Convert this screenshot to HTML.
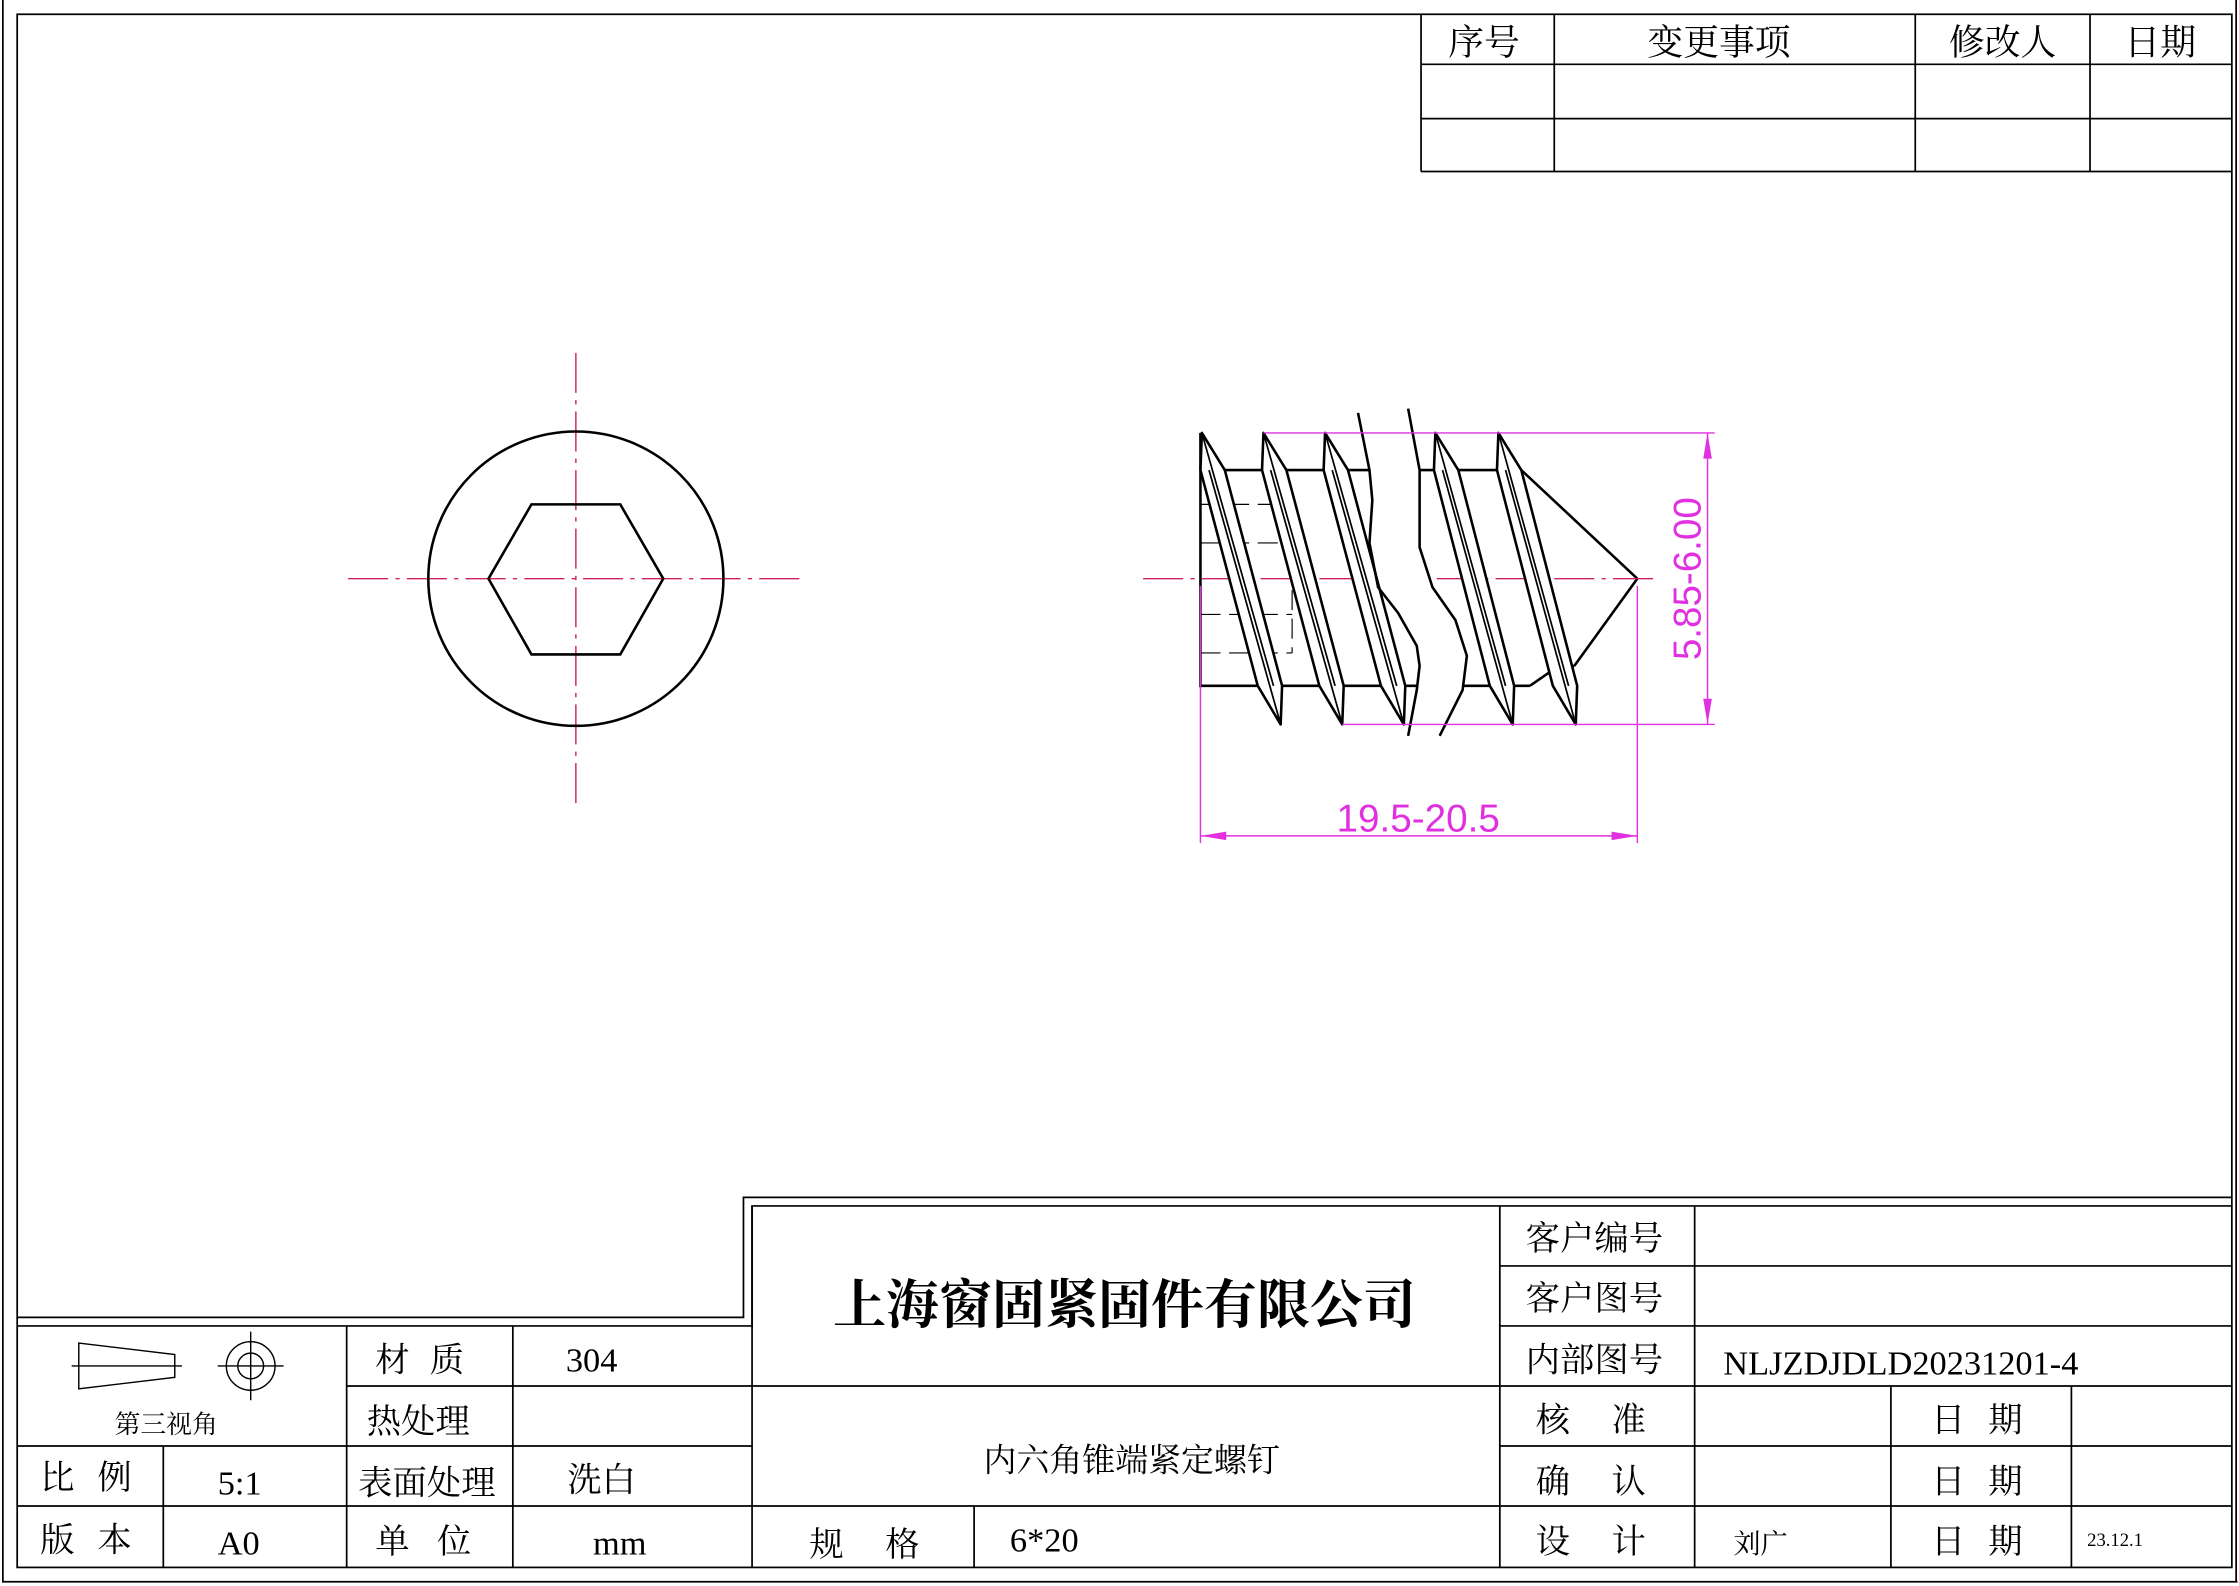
<!DOCTYPE html>
<html><head><meta charset="utf-8"><style>
html,body{margin:0;padding:0;background:#fff;}
svg{display:block;}
.t{font-family:"Liberation Serif","Noto Serif CJK SC",serif;fill:#000;}
.m{font-family:"Liberation Sans","DejaVu Sans",sans-serif;fill:#e030e0;}
</style></head><body>
<svg width="2239" height="1586" viewBox="0 0 1563 1110" preserveAspectRatio="none" xmlns="http://www.w3.org/2000/svg">
<rect x="0" y="0" width="1563" height="1110" fill="#fff"/>
<g fill="none" stroke="#000" stroke-width="1.2">
<polyline points="2,0 2,1107 1562,1107"/>
<line x1="1561" y1="0" x2="1561" y2="1107"/>
<rect x="12" y="10" width="1546" height="1087"/>
<line x1="992" y1="10" x2="992" y2="120"/>
<line x1="992" y1="45" x2="1558" y2="45"/>
<line x1="992" y1="83" x2="1558" y2="83"/>
<line x1="992" y1="120" x2="1558" y2="120"/>
<line x1="1085" y1="10" x2="1085" y2="120"/>
<line x1="1337" y1="10" x2="1337" y2="120"/>
<line x1="1459" y1="10" x2="1459" y2="120"/>
<polyline points="12,922 519,922 519,838 1558,838"/>
<polyline points="12,928 525,928 525,844 1558,844"/>
<line x1="525" y1="844" x2="525" y2="1097"/>
<line x1="12" y1="1012" x2="525" y2="1012"/>
<line x1="12" y1="1054" x2="525" y2="1054"/>
<line x1="242" y1="970" x2="525" y2="970"/>
<line x1="114" y1="1012" x2="114" y2="1097"/>
<line x1="242" y1="928" x2="242" y2="1097"/>
<line x1="358" y1="928" x2="358" y2="1097"/>
<line x1="525" y1="970" x2="1047" y2="970"/>
<line x1="525" y1="1054" x2="1047" y2="1054"/>
<line x1="680" y1="1054" x2="680" y2="1097"/>
<line x1="1047" y1="844" x2="1047" y2="1097"/>
<line x1="1183" y1="844" x2="1183" y2="1097"/>
<line x1="1047" y1="886" x2="1558" y2="886"/>
<line x1="1047" y1="928" x2="1558" y2="928"/>
<line x1="1047" y1="970" x2="1558" y2="970"/>
<line x1="1047" y1="1012" x2="1558" y2="1012"/>
<line x1="1047" y1="1054" x2="1558" y2="1054"/>
<line x1="1320" y1="970" x2="1320" y2="1097"/>
<line x1="1446" y1="970" x2="1446" y2="1097"/>
<polygon points="55,940 122,948 122,964 55,972" stroke-width="1"/>
<line x1="50" y1="956" x2="127" y2="956" stroke-width="1"/>
<circle cx="175" cy="956" r="17" stroke-width="1"/>
<circle cx="175" cy="956" r="9" stroke-width="1"/>
<line x1="152" y1="956" x2="198" y2="956" stroke-width="1"/>
<line x1="175" y1="932" x2="175" y2="980" stroke-width="1"/>
</g>

<g class="t" font-size="25" text-anchor="middle">
<text x="1036" y="38">序号</text>
<text x="1200" y="38">变更事项</text>
<text x="1398" y="38">修改人</text>
<text x="1508" y="38">日期</text>
</g>

<g class="t">
<text x="785" y="926" font-size="37" font-weight="bold" text-anchor="middle">上海窗固紧固件有限公司</text>
<text x="790" y="1030" font-size="23" text-anchor="middle">内六角锥端紧定螺钉</text>
<text x="116" y="1003" font-size="18" text-anchor="middle">第三视角</text>
<g font-size="24">
<text x="262" y="960">材</text><text x="300" y="960">质</text>
<text x="395" y="960">304</text>
<text x="256" y="1003">热处理</text>
<text x="250" y="1046">表面处理</text>
<text x="396" y="1044">洗白</text>
<text x="28" y="1042">比</text><text x="68" y="1042">例</text>
<text x="152" y="1046">5:1</text>
<text x="28" y="1086">版</text><text x="68" y="1086">本</text>
<text x="152" y="1088">A0</text>
<text x="262" y="1087">单</text><text x="305" y="1087">位</text>
<text x="414" y="1088">mm</text>
<text x="565" y="1089">规</text><text x="618" y="1089">格</text>
<text x="705" y="1086">6*20</text>
<text x="1065" y="875">客户编号</text>
<text x="1065" y="917">客户图号</text>
<text x="1065" y="960">内部图号</text>
<text x="1203" y="962">NLJZDJDLD20231201-4</text>
<text x="1072" y="1002">核</text><text x="1125" y="1002">准</text>
<text x="1072" y="1045">确</text><text x="1125" y="1045">认</text>
<text x="1072" y="1087">设</text><text x="1125" y="1087">计</text>
<text x="1348" y="1002">日</text><text x="1388" y="1002">期</text>
<text x="1348" y="1045">日</text><text x="1388" y="1045">期</text>
<text x="1348" y="1087">日</text><text x="1388" y="1087">期</text>
</g>
<text x="1210" y="1087" font-size="19">刘广</text>
<text x="1457" y="1082" font-size="13">23.12.1</text>
</g>

<g stroke="#d02068" stroke-width="1" fill="none" stroke-dasharray="28,5,3,5">
<line x1="243" y1="405" x2="560" y2="405"/>
<line x1="402" y1="247" x2="402" y2="563"/>
</g>
<g fill="none" stroke="#000" stroke-width="1.8">
<circle cx="402" cy="405" r="103"/>
<polygon points="341,405 371,353 433,353 463,405 433,458 371,458"/>
</g>

<g fill="none" stroke="#000" stroke-width="1.8" stroke-linejoin="round">
<line x1="838" y1="303" x2="838" y2="481"/>
<line x1="838" y1="329" x2="1062" y2="329"/>
<line x1="838" y1="480" x2="1068" y2="480"/>
<polyline points="1062,329 1143,405 1099,466"/>
<polyline points="1068,480 1081,471 1099,466"/>
</g>
<g stroke="#000" stroke-width="0.8" fill="none" stroke-dasharray="14,6">
<line x1="838" y1="353" x2="902" y2="353"/>
<line x1="838" y1="380" x2="902" y2="380"/>
<line x1="838" y1="430" x2="902" y2="430"/>
<line x1="838" y1="457" x2="902" y2="457"/>
<line x1="902" y1="353" x2="902" y2="457"/>
</g>
<line x1="798" y1="405" x2="1155" y2="405" stroke="#d02068" stroke-width="1" stroke-dasharray="28,5,3,5"/>
<polygon fill="#fff" stroke="none" points="948,289 956,329 958,350 956,380 962,411 976,429 989,452 991,466 989,483 983,515 1005,515 1021,483 1024,459 1016,434 1000,411 991,383 991,362 991,329 983,286"/>
<g fill="#fff" stroke="#000" stroke-width="1.8" stroke-linejoin="round">
<polygon points="839,303 855,329 895,480 894,507 878,480 838,329"/>
<polygon points="882,303 898,329 938,480 937,507 921,480 881,329"/>
<polygon points="925,303 941,329 981,480 980,507 964,480 924,329"/>
<polygon points="1002,303 1018,329 1057,480 1056,507 1040,480 1001,329"/>
<polygon points="1046,303 1062,329 1101,480 1100,507 1084,480 1045,329"/>
</g>
<g stroke="#000" stroke-width="1.2" fill="none">
<line x1="839" y1="303" x2="889" y2="480"/><line x1="844" y1="329" x2="894" y2="507"/>
<line x1="882" y1="303" x2="932" y2="480"/><line x1="887" y1="329" x2="937" y2="507"/>
<line x1="925" y1="303" x2="975" y2="480"/><line x1="930" y1="329" x2="980" y2="507"/>
<line x1="1002" y1="303" x2="1051" y2="480"/><line x1="1007" y1="329" x2="1056" y2="507"/>
<line x1="1046" y1="303" x2="1095" y2="480"/><line x1="1051" y1="329" x2="1100" y2="507"/>
</g>
<g fill="none" stroke="#000" stroke-width="1.8">
<polyline points="948,289 956,329 958,350 956,380 962,411 976,429 989,452 991,466 989,483 983,515"/>
<polyline points="983,286 991,329 991,362 991,383 1000,411 1016,434 1024,459 1021,483 1005,515"/>
</g>

<g stroke="#e030e0" stroke-width="1" fill="none">
<line x1="882" y1="303" x2="1197" y2="303"/>
<line x1="937" y1="507" x2="1197" y2="507"/>
<line x1="1192" y1="303" x2="1192" y2="507"/>
<line x1="838" y1="410" x2="838" y2="590"/>
<line x1="1143" y1="410" x2="1143" y2="590"/>
<line x1="838" y1="585" x2="1143" y2="585"/>
</g>
<g fill="#e030e0">
<polygon points="1192,303 1189,321 1195,321"/>
<polygon points="1192,507 1189,489 1195,489"/>
<polygon points="838,585 856,582 856,588"/>
<polygon points="1143,585 1125,582 1125,588"/>
</g>
<text class="m" x="990" y="582" font-size="27" text-anchor="middle">19.5-20.5</text>
<text class="m" x="0" y="0" font-size="27" text-anchor="middle" transform="translate(1187,405) rotate(-90)">5.85-6.00</text>
</svg>
</body></html>
